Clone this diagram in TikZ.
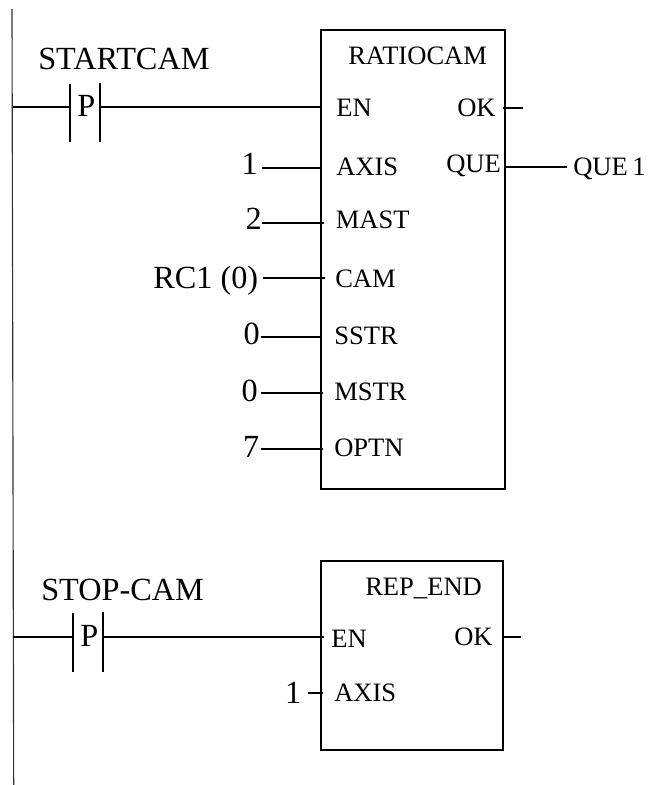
\documentclass[tikz,border=0pt]{standalone}
\usepackage{fontspec}
\setmainfont{Liberation Serif}
\tikzset{
 wire/.style={line width=1.45pt,line cap=butt},
 railline/.style={line width=0.85pt,black!80},
 bigw/.style={inner sep=0pt,anchor=base west,font=\fontsize{24.3}{26}\selectfont},
 bige/.style={inner sep=0pt,anchor=base east,font=\fontsize{24.3}{26}\selectfont},
 medw/.style={inner sep=0pt,anchor=base west,font=\fontsize{20}{22}\selectfont},
 block/.style={draw,line width=1.45pt,inner sep=0pt,outer sep=0pt,anchor=north west},
}
\begin{document}
\begin{tikzpicture}[x=1bp*0.75,y=-1bp*0.75]
\useasboundingbox (0,0) rectangle (647,785);
\fill[white] (0,0) rectangle (647,785);
% power rail
\coordinate (railT) at (12,9);
\coordinate (railB) at (13.7,785);
\draw[railline] (railT) -- (railB);
% blocks
\node[block,minimum width=184*0.75bp,minimum height=459*0.75bp] (b1) at (321,30) {};
\node[block,minimum width=182*0.75bp,minimum height=189*0.75bp] (b2) at (321,561) {};
% contacts
\coordinate (c1aT) at (70,84);\coordinate (c1aB) at (70,142);
\coordinate (c1bT) at (100,83);\coordinate (c1bB) at (100,142);
\coordinate (c2aT) at (73,613);\coordinate (c2aB) at (73,672);
\coordinate (c2bT) at (103,612);\coordinate (c2bB) at (103,672);
\draw[wire] (c1aT)--(c1aB);
\draw[wire] (c1bT)--(c1bB);
\draw[wire] (c2aT)--(c2aB);
\draw[wire] (c2bT)--(c2bB);
% rung wires
\coordinate (r1) at (13,107);\coordinate (r2) at (13.4,637);
\coordinate (c1l) at (70,107);\coordinate (c1r) at (100,107);
\coordinate (c2l) at (73,637);\coordinate (c2r) at (103,637);
\coordinate (en1) at (321,107);\coordinate (en2) at (323.5,637);
\draw[wire] (r1)--(c1l);
\draw[wire] (c1r)--(en1);
\draw[wire] (r2)--(c2l);
\draw[wire] (c2r)--(en2);
% contact labels
\node[bigw] (p1) at (77,117) {P};
\node[bigw] (p2) at (80,646) {P};
\node[bigw] (s1) at (38,70) {STARTCAM};
\node[bigw] (s2) at (41,600) {STOP-CAM};
% input values
\node[bige] (i1) at (258,175) {1};
\node[bige] (i2) at (262,230) {2};
\node[bige] (i3) at (258.5,288) {RC1 (0)};
\node[bige] (i4) at (260,344) {0};
\node[bige] (i5) at (258,401) {0};
\node[bige] (i6) at (259.5,457) {7};
\node[bige] (i7) at (301.5,703) {1};
% block 1 texts
\node[medw] (t1) at (348,65) {RATIOCAM};
\node[medw] (l1) at (336,117) {EN};
\node[medw] (l2) at (336,176) {AXIS};
\node[medw] (l3) at (335.5,229) {MAST};
\node[medw] (l4) at (335,287) {CAM};
\node[medw] (l5) at (334,344) {SSTR};
\node[medw] (l6) at (334,400) {MSTR};
\node[medw] (l7) at (334,456) {OPTN};
\node[medw] (o1) at (457,117) {OK};
\node[medw] (o2) at (446,173) {QUE};
\node[medw] (o3) at (573,176) {QUE\kern-1.6pt\ 1};
% block 2 texts
\node[medw] (t2) at (365,595) {REP\_END};
\node[medw] (l8) at (331,647) {EN};
\node[medw] (l9) at (334,701) {AXIS};
\node[medw] (o4) at (454,645) {OK};
% input wires
\coordinate (w1a) at (262,168);\coordinate (w1b) at (321,168);
\coordinate (w2a) at (262,223);\coordinate (w2b) at (323.5,223);
\coordinate (w3a) at (263,278);\coordinate (w3b) at (325,278);
\coordinate (w4a) at (261,337);\coordinate (w4b) at (321,337);
\coordinate (w5a) at (261,393);\coordinate (w5b) at (323,393);
\coordinate (w6a) at (261,449);\coordinate (w6b) at (323,449);
\coordinate (w7a) at (308,693);\coordinate (w7b) at (323,693);
\draw[wire] (w1a)--(w1b);
\draw[wire] (w2a)--(w2b);
\draw[wire] (w3a)--(w3b);
\draw[wire] (w4a)--(w4b);
\draw[wire] (w5a)--(w5b);
\draw[wire] (w6a)--(w6b);
\draw[wire] (w7a)--(w7b);
% output wires
\coordinate (q1a) at (503,108);\coordinate (q1b) at (523,108);
\coordinate (q2a) at (505,167);\coordinate (q2b) at (567,167);
\coordinate (q3a) at (504,637);\coordinate (q3b) at (521,637);
\draw[wire] (q1a)--(q1b);
\draw[wire] (q2a)--(q2b);
\draw[wire] (q3a)--(q3b);
\end{tikzpicture}
\end{document}
